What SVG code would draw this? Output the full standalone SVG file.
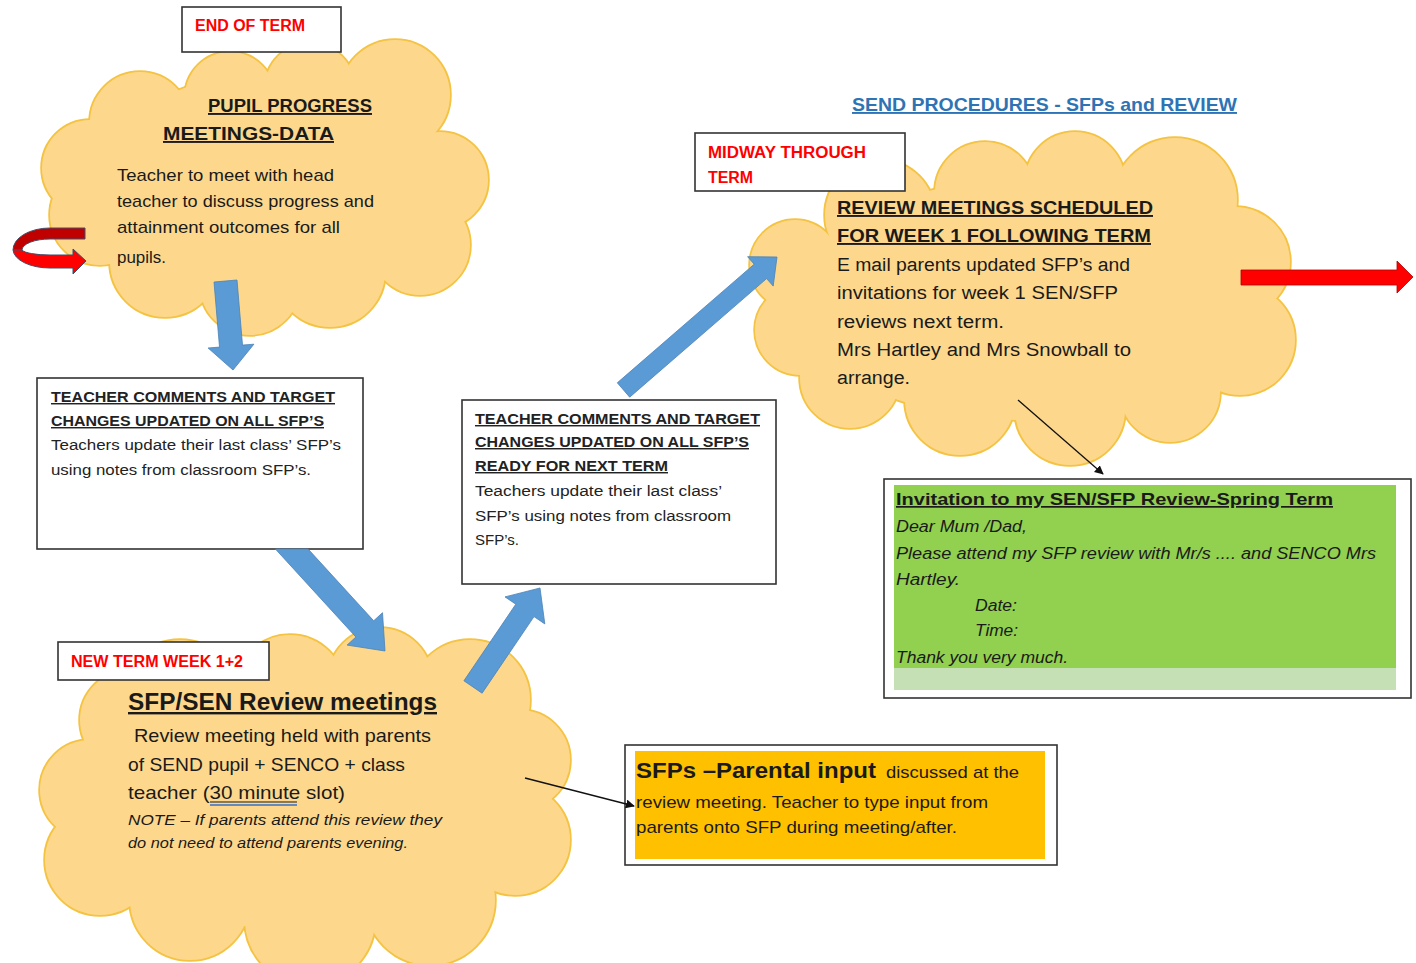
<svg xmlns="http://www.w3.org/2000/svg" xmlns:xlink="http://www.w3.org/1999/xlink" width="1416" height="963" viewBox="0 0 1416 963">
<style>
.cs{fill:none;stroke:#F5C342;stroke-width:3.5}
.cf{fill:#FDD88C;stroke:none}
.lbl{fill:#fff;stroke:#333;stroke-width:1.6}
.red{font-family:"Liberation Sans",Arial,sans-serif;font-weight:bold;font-size:16px;fill:#FF0000}
.t{font-family:"Comic Sans MS","Liberation Sans",sans-serif;fill:#1a1a1a}
.hd{font-weight:bold;text-decoration:underline}
.cal{font-family:"Liberation Sans",Arial,sans-serif;fill:#222}
.it{font-style:italic}
.blue{fill:#5B9BD5;stroke:#4A82B8;stroke-width:0.8}
.thin{stroke:#111;stroke-width:1.3;fill:none}
</style>
<defs>
<marker id="ah" viewBox="0 0 10 10" refX="9" refY="5" markerWidth="9" markerHeight="9" markerUnits="userSpaceOnUse" orient="auto">
<path d="M0,0 L10,5 L0,10 z" fill="#111"/>
</marker>
<g id="c1s">
<ellipse cx="265" cy="185" rx="170" ry="110"/>
<circle cx="230" cy="97" r="45"/><circle cx="310" cy="88" r="45"/><circle cx="395" cy="95" r="55"/>
<circle cx="440" cy="180" r="48"/><circle cx="420" cy="245" r="50"/>
<circle cx="330" cy="272" r="55"/><circle cx="250" cy="285" r="50"/><circle cx="165" cy="262" r="55"/>
<circle cx="100" cy="215" r="50"/><circle cx="90" cy="168" r="48"/><circle cx="140" cy="122" r="50"/>
</g>
<g id="c2s">
<ellipse cx="1020" cy="300" rx="220" ry="120"/>
<circle cx="880" cy="215" r="55"/><circle cx="985" cy="192" r="50"/><circle cx="1075" cy="182" r="50"/><circle cx="1175" cy="200" r="62"/>
<circle cx="1235" cy="262" r="55"/><circle cx="1240" cy="340" r="55"/>
<circle cx="1170" cy="392" r="50"/><circle cx="1070" cy="410" r="55"/><circle cx="960" cy="400" r="55"/><circle cx="850" cy="378" r="50"/>
<circle cx="800" cy="330" r="45"/><circle cx="795" cy="265" r="45"/>
</g>
<g id="c3s">
<ellipse cx="300" cy="800" rx="230" ry="130"/>
<circle cx="180" cy="700" r="60"/><circle cx="290" cy="690" r="55"/><circle cx="380" cy="680" r="52"/><circle cx="470" cy="700" r="60"/>
<circle cx="520" cy="760" r="50"/><circle cx="515" cy="840" r="55"/>
<circle cx="430" cy="900" r="65"/><circle cx="310" cy="920" r="65"/><circle cx="190" cy="900" r="60"/>
<circle cx="100" cy="860" r="55"/><circle cx="90" cy="790" r="50"/><circle cx="130" cy="720" r="50"/>
</g>
</defs>
<rect width="1416" height="963" fill="#fff"/>

<g id="title">
<text class="t hd" x="852" y="111" font-size="19" textLength="385" lengthAdjust="spacingAndGlyphs" style="fill:#2E74B5">SEND PROCEDURES - SFPs and REVIEW</text>
</g>

<g id="cloud-pupil-progress">
<use xlink:href="#c1s" class="cs"/>
<use xlink:href="#c1s" class="cf"/>
<text class="t hd" x="208" y="112" font-size="19" textLength="164" lengthAdjust="spacingAndGlyphs">PUPIL PROGRESS</text>
<text class="t hd" x="163" y="140" font-size="19" textLength="171" lengthAdjust="spacingAndGlyphs">MEETINGS-DATA</text>
<text class="t" x="117" y="181" font-size="17" textLength="217" lengthAdjust="spacingAndGlyphs">Teacher to meet with head</text>
<text class="t" x="117" y="207" font-size="17" textLength="257" lengthAdjust="spacingAndGlyphs">teacher to discuss progress and</text>
<text class="t" x="117" y="233" font-size="17" textLength="223" lengthAdjust="spacingAndGlyphs">attainment outcomes for all</text>
<text class="t" x="117" y="263" font-size="17" textLength="49" lengthAdjust="spacingAndGlyphs">pupils.</text>
</g>

<g id="label-end-of-term">
<rect class="lbl" x="182" y="7" width="159" height="45"/>
<text class="red" x="195" y="31" textLength="110" lengthAdjust="spacingAndGlyphs">END OF TERM</text>
</g>

<g id="cloud-review-scheduled">
<use xlink:href="#c2s" class="cs"/>
<use xlink:href="#c2s" class="cf"/>
<text class="t hd" x="837" y="214" font-size="19" textLength="316" lengthAdjust="spacingAndGlyphs">REVIEW MEETINGS SCHEDULED</text>
<text class="t hd" x="837" y="242" font-size="19" textLength="314" lengthAdjust="spacingAndGlyphs">FOR WEEK 1 FOLLOWING TERM</text>
<text class="t" x="837" y="271" font-size="18" textLength="293" lengthAdjust="spacingAndGlyphs">E mail parents updated SFP’s and</text>
<text class="t" x="837" y="299" font-size="18" textLength="281" lengthAdjust="spacingAndGlyphs">invitations for week 1 SEN/SFP</text>
<text class="t" x="837" y="328" font-size="18" textLength="167" lengthAdjust="spacingAndGlyphs">reviews next term.</text>
<text class="t" x="837" y="356" font-size="18" textLength="294" lengthAdjust="spacingAndGlyphs">Mrs Hartley and Mrs Snowball to</text>
<text class="t" x="837" y="384" font-size="18" textLength="73" lengthAdjust="spacingAndGlyphs">arrange.</text>
</g>

<g id="label-midway">
<rect class="lbl" x="695" y="133" width="210" height="58"/>
<text class="red" x="708" y="158" textLength="158" lengthAdjust="spacingAndGlyphs">MIDWAY THROUGH</text>
<text class="red" x="708" y="183" textLength="45" lengthAdjust="spacingAndGlyphs">TERM</text>
</g>

<g id="cloud-review-meetings">
<use xlink:href="#c3s" class="cs"/>
<use xlink:href="#c3s" class="cf"/>
<text class="t hd" x="128" y="710" font-size="24" textLength="309" lengthAdjust="spacingAndGlyphs">SFP/SEN Review meetings</text>
<text class="t" x="134" y="742" font-size="19" textLength="297" lengthAdjust="spacingAndGlyphs">Review meeting held with parents</text>
<text class="t" x="128" y="771" font-size="19" textLength="277" lengthAdjust="spacingAndGlyphs">of SEND pupil + SENCO + class</text>
<text class="t" x="128" y="799" font-size="19" textLength="217" lengthAdjust="spacingAndGlyphs">teacher (30 minute slot)</text>
<line x1="210" y1="802" x2="297" y2="802" stroke="#1a1a1a" stroke-width="1.2"/>
<line x1="210" y1="805" x2="297" y2="805" stroke="#2F6FD0" stroke-width="1.5"/>
<text class="t it" x="128" y="825" font-size="15" textLength="314" lengthAdjust="spacingAndGlyphs">NOTE – If parents attend this review they</text>
<text class="t it" x="128" y="848" font-size="15" textLength="280" lengthAdjust="spacingAndGlyphs">do not need to attend parents evening.</text>
</g>

<g id="label-new-term">
<rect class="lbl" x="58" y="642" width="211" height="38"/>
<text class="red" x="71" y="667" textLength="172" lengthAdjust="spacingAndGlyphs">NEW TERM WEEK 1+2</text>
</g>

<g id="box-teacher-comments-1">
<rect class="lbl" x="37" y="378" width="326" height="171"/>
<text class="cal hd" x="51" y="402" font-size="14.5" textLength="284" lengthAdjust="spacingAndGlyphs">TEACHER COMMENTS AND TARGET</text>
<text class="cal hd" x="51" y="426" font-size="14.5" textLength="273" lengthAdjust="spacingAndGlyphs">CHANGES UPDATED ON ALL SFP’S</text>
<text class="cal" x="51" y="450" font-size="15.5" textLength="290" lengthAdjust="spacingAndGlyphs">Teachers update their last class’ SFP’s</text>
<text class="cal" x="51" y="475" font-size="15.5" textLength="260" lengthAdjust="spacingAndGlyphs">using notes from classroom SFP’s.</text>
</g>

<g id="box-teacher-comments-2">
<rect class="lbl" x="462" y="400" width="314" height="184"/>
<text class="cal hd" x="475" y="424" font-size="14.5" textLength="285" lengthAdjust="spacingAndGlyphs">TEACHER COMMENTS AND TARGET</text>
<text class="cal hd" x="475" y="447" font-size="14.5" textLength="274" lengthAdjust="spacingAndGlyphs">CHANGES UPDATED ON ALL SFP’S</text>
<text class="cal hd" x="475" y="471" font-size="14.5" textLength="193" lengthAdjust="spacingAndGlyphs">READY FOR NEXT TERM</text>
<text class="cal" x="475" y="496" font-size="15.5" textLength="247" lengthAdjust="spacingAndGlyphs">Teachers update their last class’</text>
<text class="cal" x="475" y="521" font-size="15.5" textLength="256" lengthAdjust="spacingAndGlyphs">SFP’s using notes from classroom</text>
<text class="cal" x="475" y="545" font-size="15.5" textLength="44" lengthAdjust="spacingAndGlyphs">SFP’s.</text>
</g>

<g id="box-invitation">
<rect class="lbl" x="884" y="479" width="527" height="219"/>
<rect x="894" y="485" width="502" height="183" fill="#92D050"/>
<rect x="894" y="668" width="502" height="22" fill="#C5E0B4"/>
<text class="t hd" x="896" y="505" font-size="17" textLength="437" lengthAdjust="spacingAndGlyphs">Invitation to my SEN/SFP Review-Spring Term</text>
<text class="t it" x="896" y="532" font-size="16" textLength="131" lengthAdjust="spacingAndGlyphs">Dear Mum /Dad,</text>
<text class="t it" x="896" y="559" font-size="16" textLength="480" lengthAdjust="spacingAndGlyphs">Please attend my SFP review with Mr/s ....  and SENCO Mrs</text>
<text class="t it" x="896" y="585" font-size="16" textLength="64" lengthAdjust="spacingAndGlyphs">Hartley.</text>
<text class="t it" x="975" y="611" font-size="16" textLength="42" lengthAdjust="spacingAndGlyphs">Date:</text>
<text class="t it" x="975" y="636" font-size="16" textLength="43" lengthAdjust="spacingAndGlyphs">Time:</text>
<text class="t it" x="896" y="663" font-size="16" textLength="172" lengthAdjust="spacingAndGlyphs">Thank you very much.</text>
</g>

<g id="box-parental-input">
<rect class="lbl" x="625" y="745" width="432" height="120"/>
<rect x="635" y="751" width="410" height="108" fill="#FFC000"/>
<text class="t" x="636" y="778" font-size="22" font-weight="bold" textLength="240" lengthAdjust="spacingAndGlyphs">SFPs –Parental input</text>
<text class="t" x="886" y="778" font-size="17" textLength="133" lengthAdjust="spacingAndGlyphs">discussed at the</text>
<text class="t" x="636" y="808" font-size="17" textLength="352" lengthAdjust="spacingAndGlyphs">review meeting. Teacher to type input from</text>
<text class="t" x="636" y="833" font-size="17" textLength="321" lengthAdjust="spacingAndGlyphs">parents onto SFP during meeting/after.</text>
</g>

<g id="connectors">
<polygon class="blue" points="214,282 219.5,347.1 208.1,348 233,370 253.9,344.2 242.5,345.1 237,280"/>
<polygon class="blue" points="275.4,549 355.9,637 347.1,645.1 385,651 382.5,612.7 373.7,620.8 308.1,549"/>
<polygon class="blue" points="482.1,693.2 534,616.6 544.8,623.9 540,588 505,596.9 515.8,604.2 463.9,680.8"/>
<polygon class="blue" points="629.7,397.2 766.6,278.6 773.2,286.1 777,257 747.6,256.7 754.2,264.2 617.3,382.8"/>
<polygon points="1241,270 1397,270 1397,261 1413,277 1397,293 1397,285 1241,285" fill="#FF0000" stroke="#B00000" stroke-width="0.8"/>
<path d="M85,228 L50,228 A37,22 0 0 0 13,250 L22,250 A28,11 0 0 1 50,239 L85,239 Z" fill="#C00000" stroke="#3E4F6A" stroke-width="1"/>
<path d="M13,250 A37,19 0 0 0 50,268 L73,268 L73,274 L86,261 L73,249 L73,255 L50,255 A28,6 0 0 1 22,250 Z" fill="#FF0000" stroke="#3E4F6A" stroke-width="1"/>
<line class="thin" x1="1018" y1="400" x2="1103" y2="474" marker-end="url(#ah)"/>
<line class="thin" x1="525" y1="778" x2="634" y2="806" marker-end="url(#ah)"/>
</g>
</svg>
